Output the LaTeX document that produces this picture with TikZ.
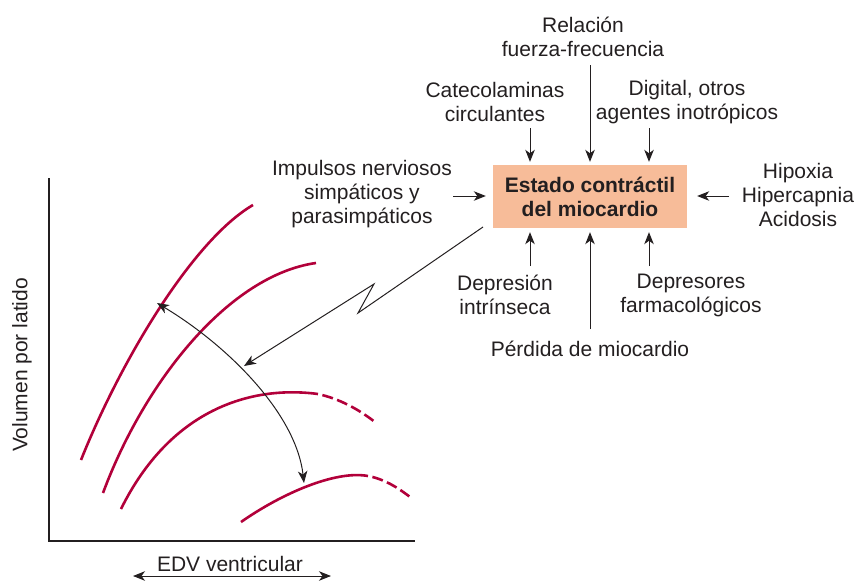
\documentclass[tikz,border=0pt]{standalone}
\usepackage{fontspec}
\setmainfont{Liberation Sans}
\usetikzlibrary{arrows.meta}
\definecolor{curvered}{RGB}{178,0,58}
\definecolor{peach}{RGB}{247,188,153}
\definecolor{ink}{RGB}{35,31,32}
\begin{document}
\begin{tikzpicture}[x=1pt,y=-1pt,
  every node/.style={text=ink,font=\fontsize{21}{24}\selectfont,align=center,inner sep=0pt},
  tip/.tip={Stealth[length=12pt,width=9.5pt,inset=3.5pt]},
  arr/.style={draw=ink,line width=1pt,-tip},
  darr/.style={draw=ink,line width=1pt,tip-tip},
  axis/.style={draw=ink,line width=2.2pt},
  fcurve/.style={draw=curvered,line width=2.6pt},
  dcurve/.style={draw=curvered,line width=2.6pt,dash pattern=on 11pt off 4.5pt,dash phase=-4.5pt},
  boxstyle/.style={fill=peach,minimum width=194pt,minimum height=63pt,font=\fontsize{21}{24}\selectfont\bfseries}]
\useasboundingbox (0,0) rectangle (855,581);
% central box and labels
\node[boxstyle] (box) at (590,196.5) {Estado contráctil\\del miocardio};
\node (rel) at (583,37) {Relación\\fuerza-frecuencia};
\node (cat) at (495,102) {Catecolaminas\\circulantes};
\node (dig) at (687,102) {Digital, otros\\agentes inotrópicos};
\node (imp) at (362,194) {Impulsos nerviosos\\simpáticos y\\parasimpáticos};
\node (hip) at (798,195) {Hipoxia\\Hipercapnia\\Acidosis};
\node (dep) at (505,295) {Depresión\\intrínseca};
\node (far) at (691,295) {Depresores\\farmacológicos};
\node (per) at (590,349) {Pérdida de miocardio};
% arrow start points
\coordinate (tR) at (590,65);
\coordinate (tC) at (530,128);
\coordinate (tD) at (649,128);
\coordinate (lI) at (453,196);
\coordinate (rH) at (729,196);
\coordinate (bD) at (530,266);
\coordinate (bP) at (590,329);
\coordinate (bF) at (649,266);
\draw[arr,shorten >=3pt] (tR) -- (tR |- box.north);
\draw[arr,shorten >=3pt] (tC) -- (tC |- box.north);
\draw[arr,shorten >=3pt] (tD) -- (tD |- box.north);
\draw[arr,shorten >=7pt] (lI) -- (lI -| box.west);
\draw[arr,shorten >=10pt] (rH) -- (rH -| box.east);
\draw[arr,shorten >=4pt] (bD) -- (bD |- box.south);
\draw[arr,shorten >=4pt] (bP) -- (bP |- box.south);
\draw[arr,shorten >=4pt] (bF) -- (bF |- box.south);
% zigzag
\coordinate (z0) at (483,227);
\coordinate (z1) at (358,313);
\coordinate (z2) at (374,284);
\coordinate (z3) at (244,366);
\draw[arr] (z0) -- (z1) -- (z2) -- (z3);
% axes
\coordinate (ytop) at (49,178);
\coordinate (orig) at (49,541);
\coordinate (xend) at (415,541);
\draw[axis] (ytop) -- (orig) -- (xend);
\node[rotate=90] (ylab) at (22,365) {Volumen por latido};
\node (xlab) at (230,564) {EDV ventricular};
\coordinate (xa) at (133,576);
\coordinate (xb) at (331,576);
\draw[darr] (xa) -- (xb);
% curves
\draw[fcurve] (81,460) .. controls (121,360) and (193,240) .. (253,205);
\draw[fcurve] (103,493) .. controls (145,380) and (230,275) .. (316,263);
\draw[fcurve] (121,509) .. controls (170,410) and (250,385) .. (318,394);
\draw[dcurve] (318,394) .. controls (340,399) and (358,409) .. (375,422);
\draw[fcurve] (241,522) .. controls (281,494) and (335,470) .. (368,476);
\draw[dcurve] (368,476) .. controls (384,479) and (397,487) .. (410,497);
% curved double arrow
\coordinate (ca) at (157,303);
\coordinate (cb) at (304,483);
\draw[darr] (ca) .. controls (227,345) and (296,413) .. (cb);
\end{tikzpicture}
\end{document}
